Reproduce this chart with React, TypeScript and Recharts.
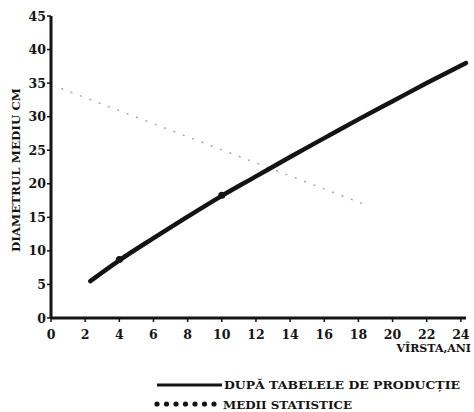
import React from 'react'
import { LineChart, Line, XAxis, YAxis, Legend, Label } from 'recharts'

// age (years) and mean diameter (cm) from the production tables
const ages = [2.3, 4, 6, 8, 10, 12, 14, 16, 18, 20, 22, 24.3]
const diameters = [5.5, 8.6, 11.9, 15.1, 18.2, 21.1, 24.0, 26.8, 29.6, 32.3, 35.0, 38.0]

// statistical means plotted on top of the curve
const statAges = [4, 10]
const statDiameters = [8.7, 18.3]

// faint dotted trace running down across the plot
const traceAges = [0.6, 18.5]
const traceDiameters = [34.2, 16.8]

const xTicks = [0, 2, 4, 6, 8, 10, 12, 14, 16, 18, 20, 22, 24]
const yTicks = [0, 5, 10, 15, 20, 25, 30, 35, 40, 45]

const legendLabels = ['DUPĂ TABELELE DE PRODUCȚIE', 'MEDII STATISTICE']

const INK = '#141414'
const FONT = '"DejaVu Serif", "Liberation Serif", serif'

const tableData = ages.map((a, i) => ({ age: a, d: diameters[i] }))
const statData = statAges.map((a, i) => ({ age: a, d: statDiameters[i] }))
const traceData = traceAges.map((a, i) => ({ age: a, d: traceDiameters[i] }))

const XTick = ({ x, y, payload }: any) => (
  <text x={x} y={y + 15} textAnchor="middle" fontFamily={FONT} fontWeight="bold" fontSize={12.5} fill={INK}>
    {payload.value}
  </text>
)

const YTick = ({ x, y, payload }: any) => (
  <text x={x + 1} y={y + 4.5} textAnchor="end" fontFamily={FONT} fontWeight="bold" fontSize={12.5} fill={INK}>
    {payload.value}
  </text>
)

const LegendBox = () => (
  <svg width={320} height={44} style={{ display: 'block' }}>
    <line x1={7} y1={13} x2={72} y2={13} stroke={INK} strokeWidth={3} />
    <text x={74} y={17} fontFamily={FONT} fontWeight="bold" fontSize={11} fill={INK} textLength={236} lengthAdjust="spacingAndGlyphs">
      {legendLabels[0]}
    </text>
    {[0, 1, 2, 3, 4, 5, 6].map((i) => (
      <circle key={i} cx={7 + i * 9.5} cy={32} r={2.6} fill={INK} />
    ))}
    <text x={73} y={36.5} fontFamily={FONT} fontWeight="bold" fontSize={11} fill={INK} textLength={129} lengthAdjust="spacingAndGlyphs">
      {legendLabels[1]}
    </text>
  </svg>
)

export default function App() {
  return (
    <div style={{ position: 'absolute', left: 0, top: 0, width: 474, height: 412, background: '#fff' }}>
      {/* the legend height (44) is taken off the bottom of the plot, so the margin is 74 - 44 */}
      <LineChart width={474} height={412} margin={{ top: 16, right: 8, left: 0, bottom: 30 }}>
        <XAxis
          dataKey="age"
          type="number"
          domain={[0, 24.3]}
          ticks={xTicks}
          interval={0}
          height={20}
          tickSize={4}
          tick={<XTick />}
          axisLine={{ stroke: INK, strokeWidth: 3 }}
          tickLine={{ stroke: INK, strokeWidth: 1.5 }}
          allowDuplicatedCategory={false}
        >
          <Label
            content={({ viewBox }: any) => (
              <text
                x={viewBox.x + viewBox.width + 5}
                y={viewBox.y + 34}
                textAnchor="end"
                fontFamily={FONT}
                fontWeight="bold"
                fontSize={11}
                fill={INK}
              >
                VÎRSTA,ANI
              </text>
            )}
          />
        </XAxis>
        <YAxis
          dataKey="d"
          type="number"
          domain={[0, 45]}
          ticks={yTicks}
          interval={0}
          width={51}
          tickSize={4}
          tick={<YTick />}
          axisLine={{ stroke: INK, strokeWidth: 3 }}
          tickLine={{ stroke: INK, strokeWidth: 1.5 }}
        >
          <Label
            content={() => (
              <text
                x={0}
                y={0}
                transform="translate(20, 170) rotate(-90)"
                textAnchor="middle"
                fontFamily={FONT}
                fontWeight="bold"
                fontSize={11}
                fill={INK}
                textLength={164}
                lengthAdjust="spacingAndGlyphs"
              >
                DIAMETRUL MEDIU CM
              </text>
            )}
          />
        </YAxis>
        <Line
          data={traceData}
          dataKey="d"
          stroke="#a8a8a8"
          strokeWidth={1.5}
          strokeDasharray="2 8"
          dot={false}
          legendType="none"
          isAnimationActive={false}
        />
        <Line
          data={tableData}
          dataKey="d"
          type="monotone"
          stroke={INK}
          strokeWidth={4.5}
          strokeLinecap="round"
          dot={false}
          isAnimationActive={false}
        />
        <Line
          data={statData}
          dataKey="d"
          stroke="none"
          dot={{ r: 3.5, fill: INK, stroke: 'none' }}
          isAnimationActive={false}
        />
        <Legend content={<LegendBox />} wrapperStyle={{ left: 150, top: 372, width: 320, bottom: 'auto' }} />
      </LineChart>
    </div>
  )
}
